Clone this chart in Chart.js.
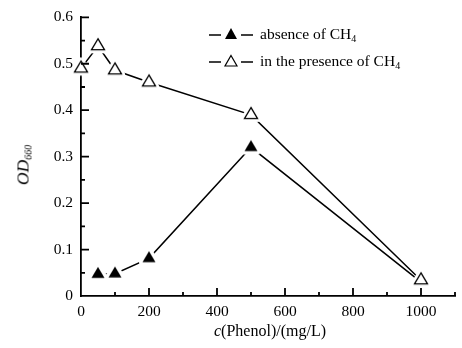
<!DOCTYPE html>
<html lang="en">
<head>
    <meta charset="UTF-8">
    <title>OD660 vs phenol</title>
    <script src="https://cdn.jsdelivr.net/npm/chart.js"></script>
    <style>
        body {
            margin: 0;
            padding: 0;
            background: #fff;
            font-family: "Liberation Serif", "DejaVu Serif", serif;
        }

        .wrap {
            position: relative;
            width: 462px;
            height: 348px;
        }

        /* legend box in the top right */
        .legend {
            position: absolute;
            left: 209px;
            top: 20px;
            font-size: 15.5px;
            line-height: 27px;
            color: #000;
        }

        .legend div {
            display: flex;
            align-items: center;
            white-space: nowrap;
        }

        .legend svg {
            margin-right: 7px;
        }

        sub {
            font-size: 10px;
            vertical-align: -3px;
            line-height: 0;
        }

        .ytitle {
            position: absolute;
            left: 23px;
            top: 165px;
            transform: translate(-50%, -50%) rotate(-90deg);
            font-size: 17.5px;
            white-space: nowrap;
        }

        .xtitle {
            position: absolute;
            left: 270px;
            top: 331px;
            transform: translate(-50%, -50%);
            font-size: 16px;
            white-space: nowrap;
        }
    </style>
</head>
<body>
    <div class="wrap">
        <canvas id="odChart" width="462" height="348"></canvas>

        <div class="legend">
            <div>
                <svg width="44" height="14">
                    <line x1="0" y1="8" x2="12" y2="8" stroke="#000" stroke-width="1.5"/>
                    <polygon points="22,1 28,12 16,12" fill="#000"/>
                    <line x1="32" y1="8" x2="44" y2="8" stroke="#000" stroke-width="1.5"/>
                </svg>
                <span>absence of CH<sub>4</sub></span>
            </div>
            <div>
                <svg width="44" height="14">
                    <line x1="0" y1="8" x2="12" y2="8" stroke="#000" stroke-width="1.5"/>
                    <polygon points="22,1.5 28,12 16,12" fill="#fff" stroke="#000" stroke-width="1.2"/>
                    <line x1="32" y1="8" x2="44" y2="8" stroke="#000" stroke-width="1.5"/>
                </svg>
                <span>in the presence of CH<sub>4</sub></span>
            </div>
        </div>

        <div class="ytitle"><i>OD</i><sub><i>660</i></sub></div>
        <div class="xtitle"><i>c</i>(Phenol)/(mg/L)</div>
    </div>

    <script>
        // values
        const phenol = [0, 50, 100, 200, 500, 1000];
        const absence = [null, 0.047, 0.048, 0.081, 0.32, 0.03];
        const presence = [0.49, 0.538, 0.486, 0.46, 0.39, 0.034];

        const xTickLabels = ['0', '200', '400', '600', '800', '1000'];
        const yTickLabels = ['0', '0.1', '0.2', '0.3', '0.4', '0.5', '0.6'];

        function toPoints(ys) {
            const pts = [];
            phenol.forEach((x, i) => {
                if (ys[i] !== null) pts.push({ x: x, y: ys[i] });
            });
            return pts;
        }

        // triangle marker with a white halo, so the line stops short of it
        function makeMarker(filled) {
            const c = document.createElement('canvas');
            c.width = 26;
            c.height = 26;
            const ctx = c.getContext('2d');
            const cx = 13, cy = 13;

            function tri(w, h) {
                ctx.beginPath();
                ctx.moveTo(cx, cy - h * 2 / 3);
                ctx.lineTo(cx + w, cy + h / 3);
                ctx.lineTo(cx - w, cy + h / 3);
                ctx.closePath();
            }

            tri(6.5, 11);
            ctx.fillStyle = '#fff';
            ctx.strokeStyle = '#fff';
            ctx.lineWidth = 7;
            ctx.lineJoin = 'round';
            ctx.stroke();
            ctx.fill();

            tri(6.5, 11);
            if (filled) {
                ctx.fillStyle = '#000';
                ctx.fill();
            } else {
                ctx.fillStyle = '#fff';
                ctx.fill();
                ctx.strokeStyle = '#000';
                ctx.lineWidth = 1.3;
                ctx.lineJoin = 'miter';
                ctx.stroke();
            }
            return c;
        }

        // inward tick marks, major and minor
        const inwardTicks = {
            id: 'inwardTicks',
            afterDraw(chart) {
                const ctx = chart.ctx;
                const xs = chart.scales.x;
                const ys = chart.scales.y;
                const bottom = ys.getPixelForValue(0);
                const left = xs.getPixelForValue(0);
                ctx.save();
                ctx.strokeStyle = '#000';
                ctx.lineWidth = 1.8;
                ctx.beginPath();
                for (let i = 1; i <= 11; i++) {
                    const px = xs.getPixelForValue(i * 100);
                    const len = i % 2 === 0 ? 8 : 4;
                    ctx.moveTo(px, bottom);
                    ctx.lineTo(px, bottom - len);
                }
                for (let i = 1; i <= 12; i++) {
                    const py = ys.getPixelForValue(i * 0.05);
                    const len = i % 2 === 0 ? 8 : 4;
                    ctx.moveTo(left, py);
                    ctx.lineTo(left + len, py);
                }
                ctx.stroke();
                ctx.restore();
            }
        };

        const tickFont = { family: '"Liberation Serif", serif', size: 15.5 };

        const chart = new Chart(document.getElementById('odChart'), {
            type: 'line',
            data: {
                datasets: [{
                    label: 'absence of CH4',
                    data: toPoints(absence),
                    borderColor: '#000',
                    borderWidth: 1.5,
                    pointStyle: makeMarker(true),
                    clip: false,
                    order: 1
                }, {
                    label: 'in the presence of CH4',
                    data: toPoints(presence),
                    borderColor: '#000',
                    borderWidth: 1.5,
                    pointStyle: makeMarker(false),
                    clip: false,
                    order: 0
                }]
            },
            options: {
                responsive: false,
                animation: false,
                layout: {
                    padding: { top: 16, right: 7, left: 0, bottom: 0 }
                },
                plugins: {
                    legend: { display: false },
                    tooltip: { enabled: false }
                },
                scales: {
                    x: {
                        type: 'linear',
                        min: 0,
                        max: 1100,
                        afterBuildTicks: (scale) => {
                            scale.ticks = xTickLabels.map((t) => ({ value: Number(t) }));
                        },
                        afterFit: (scale) => { scale.height = 52; },
                        grid: { display: false, drawTicks: false },
                        border: { color: '#000', width: 1.8 },
                        ticks: {
                            padding: 7,
                            color: '#000',
                            font: tickFont,
                            maxRotation: 0,
                            autoSkip: false,
                            callback: (v) => String(v)
                        }
                    },
                    y: {
                        min: 0,
                        max: 0.6,
                        afterBuildTicks: (scale) => {
                            scale.ticks = yTickLabels.map((t) => ({ value: Number(t) }));
                        },
                        afterFit: (scale) => { scale.width = 81; },
                        grid: { display: false, drawTicks: false },
                        border: { color: '#000', width: 1.8 },
                        ticks: {
                            padding: 8,
                            color: '#000',
                            font: tickFont,
                            autoSkip: false,
                            callback: (v) => yTickLabels[Math.round(v * 10)]
                        }
                    }
                }
            },
            plugins: [inwardTicks]
        });
    </script>
</body>
</html>
